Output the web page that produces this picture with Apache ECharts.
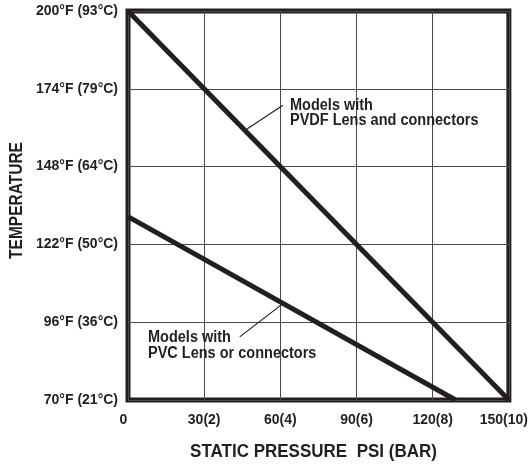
<!DOCTYPE html>
<html>
<head>
<meta charset="utf-8">
<script src="https://cdn.jsdelivr.net/npm/echarts@6/dist/echarts.min.js"></script>
<style>html,body{margin:0;padding:0;background:#fff}#c{width:531px;height:464px}</style>
</head>
<body>
<div id="c"></div>
<script>
// Data
const xTicks = [0, 30, 60, 90, 120, 150];
const xBar = [null, 2, 4, 6, 8, 10];
const yTempF = [70, 96, 122, 148, 174, 200];
const yTempC = [21, 36, 50, 64, 79, 93];
const pvdfLine = [[0, 200], [150, 70]];
const pvcLine = [[0, 131.3], [129, 70]];
const pvdfLeader = [[46, 160.1], [61, 168.5]];
const pvcLeader = [[44, 91.1], [61, 102.2]];
const pvdfLabel = ['Models with', 'PVDF Lens and connectors'];
const pvcLabel = ['Models with', 'PVC Lens or connectors'];

const ink = '#231f20';
const font = '"Liberation Sans", Arial, sans-serif';

const chart = echarts.init(document.getElementById('c'), null, {renderer: 'canvas'});
chart.setOption({
  animation: false,
  backgroundColor: '#fff',
  grid: {left: 128, top: 11, right: 21, bottom: 64, show: true, borderColor: ink, borderWidth: 5, backgroundColor: 'transparent'},
  xAxis: {
    type: 'value', min: 0, max: 150, interval: 30,
    axisLine: {show: false}, axisTick: {show: false},
    splitLine: {show: true, lineStyle: {color: '#4a4a4a', width: 1}},
    axisLabel: {
      margin: 13, color: ink, fontFamily: font, fontWeight: 'bold', fontSize: 14,
      formatter: function (v) {
        const i = xTicks.indexOf(v);
        if (i === 0) return '{l|' + v + '}';
        const s = v + '(' + xBar[i] + ')';
        if (i === xTicks.length - 1) return '{r|' + s + '}';
        return s;
      },
      rich: {
        l: {padding: [0, 9, 0, 0], color: ink, fontFamily: font, fontWeight: 'bold', fontSize: 14},
        r: {padding: [0, 10, 0, 0], color: ink, fontFamily: font, fontWeight: 'bold', fontSize: 14}
      }
    }
  },
  yAxis: {
    type: 'value', min: 70, max: 200, interval: 26,
    axisLine: {show: false}, axisTick: {show: false},
    splitLine: {show: true, lineStyle: {color: '#4a4a4a', width: 1}},
    axisLabel: {
      margin: 10, color: ink, fontFamily: font, fontWeight: 'bold', fontSize: 14,
      formatter: function (v) {
        const i = yTempF.indexOf(Math.round(v));
        return Math.round(v) + '°F (' + (i >= 0 ? yTempC[i] : '') + '°C)';
      }
    }
  },
  series: [
    {type: 'line', data: pvdfLine, symbol: 'none', lineStyle: {color: ink, width: 5}, z: 5},
    {type: 'line', data: pvcLine, symbol: 'none', lineStyle: {color: ink, width: 5}, z: 5},
    {type: 'line', data: pvdfLeader, symbol: 'none', lineStyle: {color: ink, width: 1.2}, z: 4},
    {type: 'line', data: pvcLeader, symbol: 'none', lineStyle: {color: ink, width: 1.2}, z: 4}
  ],
  graphic: [
    {type: 'text', x: 290, y: 98, scaleY: 1.2, z: 10, style: {text: pvdfLabel.join('\n'), fill: ink, font: 'bold 14.5px ' + font, lineHeight: 12.5, verticalAlign: 'top'}},
    {type: 'text', x: 148, y: 329.4, scaleY: 1.2, z: 10, style: {text: pvcLabel.join('\n'), fill: ink, font: 'bold 14.5px ' + font, lineHeight: 13, verticalAlign: 'top'}},
    {type: 'text', x: 313.5, y: 452, scaleY: 1.07, z: 10, style: {text: 'STATIC PRESSURE  PSI (BAR)', fill: ink, font: 'bold 17px ' + font, align: 'center', verticalAlign: 'middle'}},
    {type: 'text', x: 16.5, y: 200.5, rotation: Math.PI / 2, scaleY: 1.17, z: 10, style: {text: 'TEMPERATURE', fill: ink, font: 'bold 15.5px ' + font, align: 'center', verticalAlign: 'middle'}}
  ]
});
</script>
</body>
</html>
